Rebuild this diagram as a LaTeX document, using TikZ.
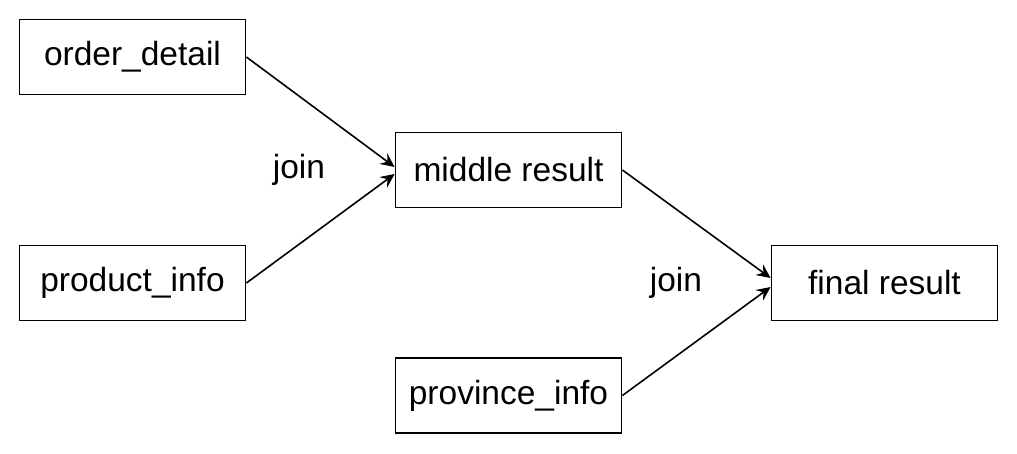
\documentclass[tikz,border=0pt]{standalone}
\usepackage{fontspec}
\setmainfont{Liberation Sans}
\usetikzlibrary{arrows.meta}
\tikzset{
  box/.style={draw, line width=1.8pt, minimum width=226pt, minimum height=75pt, inner sep=0pt, font=\fontsize{33.5}{40}\selectfont},
  lbl/.style={inner sep=0pt, font=\fontsize{33.5}{40}\selectfont},
  arr/.style={line width=1.6pt, -{Stealth[length=14pt, width=13pt, inset=5pt]}}
}
\begin{document}
\begin{tikzpicture}[x=1pt,y=-1pt]
\useasboundingbox (0,0) rectangle (1017,453);
\node[box] (od) at (132.5,57) {order\_detail};
\node[box] (pi) at (132.5,283) {product\_info};
\node[box] (mr) at (508.5,170) {middle result};
\node[box] (fr) at (884.5,283) {final result};
\node[box] (pv) at (508.5,395.5) {province\_info};
\node[lbl] (j1) at (299,170) {join};
\node[lbl] (j2) at (676,283) {join};
\draw[arr] (od.east) -- ([yshift=3pt]mr.west);
\draw[arr] (pi.east) -- ([yshift=-4pt]mr.west);
\draw[arr] (mr.east) -- ([yshift=5pt]fr.west);
\draw[arr] (pv.east) -- ([yshift=-4pt]fr.west);
\end{tikzpicture}
\end{document}
